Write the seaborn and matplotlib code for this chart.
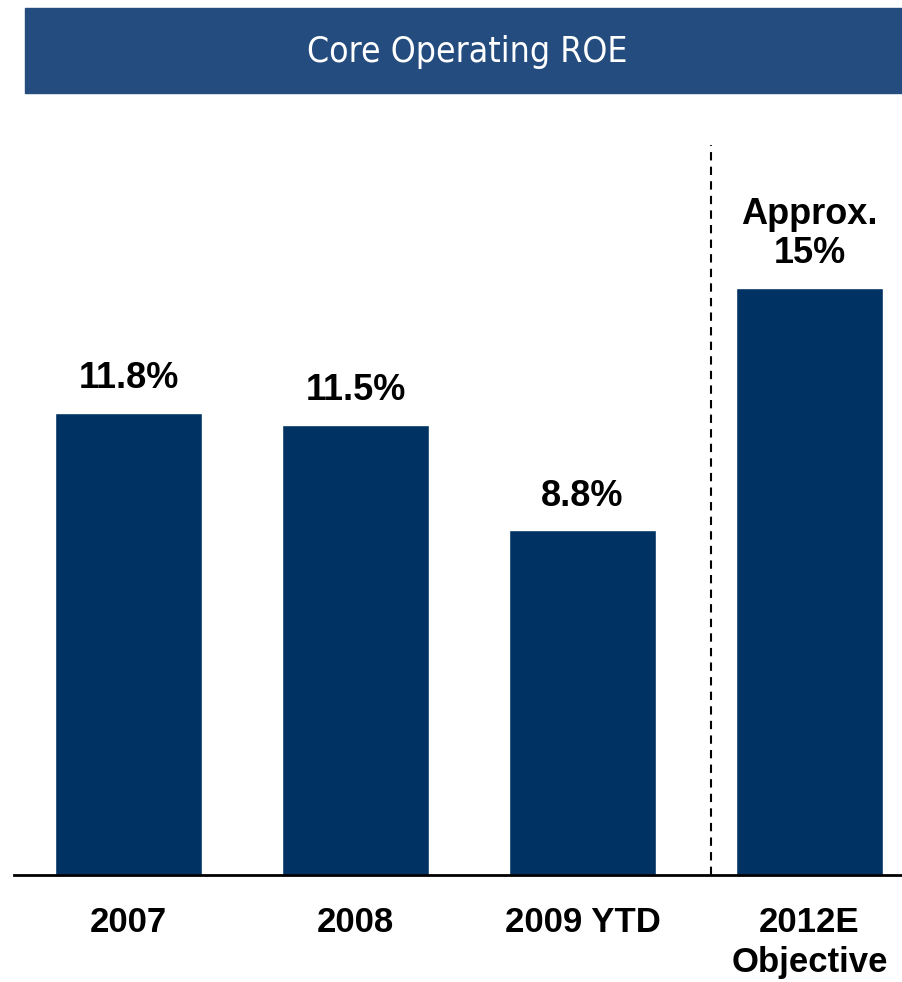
import matplotlib
matplotlib.use("Agg")
import matplotlib.pyplot as plt
import seaborn as sns
import pandas as pd
from matplotlib.patches import Rectangle

categories = ["2007", "2008", "2009 YTD", "2012E\nObjective"]
values = [11.8, 11.5, 8.8, 15.0]
value_labels = ["11.8%", "11.5%", "8.8%", "Approx.\n15%"]
title = "Core Operating ROE"

sns.set_theme(style="white")
plt.rcParams['font.family'] = ['Liberation Sans', 'DejaVu Sans']

bar_color = "#003263"
banner_color = "#244c7e"

W, H = 903, 982
fig = plt.figure(figsize=(W / 100, H / 100), dpi=100)
ax = fig.add_axes([14 / W, 1 - 875 / H, (W - 14) / W, (875 - 100) / H])

df = pd.DataFrame({"cat": categories, "val": values})
sns.barplot(data=df, x="cat", y="val", color=bar_color, saturation=1,
            width=0.648, ax=ax)

ax.set_ylim(0, 775 / 39.15)
ax.set_xlim(-(128.5 - 14) / 227, (903 - 128.5) / 227)

for i, (v, lab) in enumerate(zip(values, value_labels)):
    ax.annotate(lab, (i, v), xytext=(0, 12), textcoords="offset points",
                ha="center", va="bottom", fontsize=26, fontweight="bold",
                color="black", linespacing=1.15)

# dashed separator between actuals and objective
ax.axvline((711 - 128.5) / 227, ymin=0, ymax=(875 - 145) / 775,
           color="black", linestyle=(0, (4, 3)), linewidth=1.5)

for s in ["top", "left", "right"]:
    ax.spines[s].set_visible(False)
ax.spines["bottom"].set_color("black")
ax.spines["bottom"].set_linewidth(2)
ax.set_yticks([])
ax.set_xlabel("")
ax.set_ylabel("")
ax.tick_params(axis="x", length=0, pad=22)
for t in ax.get_xticklabels():
    t.set_fontsize(25)
    t.set_fontweight("bold")
    t.set_color("black")
    t.set_linespacing(1.28)
    t.set_verticalalignment("top")

# title banner
fig.patches.append(Rectangle((25 / W, 1 - 93 / H), (W - 25) / W, 85 / H,
                             transform=fig.transFigure, color=banner_color,
                             zorder=0))
fig.text((25 + W) / 2 / W + 3 / W, 1 - 52 / H, title, ha="center", va="center",
         color="white", fontsize=25.5, fontstretch="condensed",
         family=['DejaVu Sans'])

fig.savefig("out.png", dpi=100, facecolor="white")
